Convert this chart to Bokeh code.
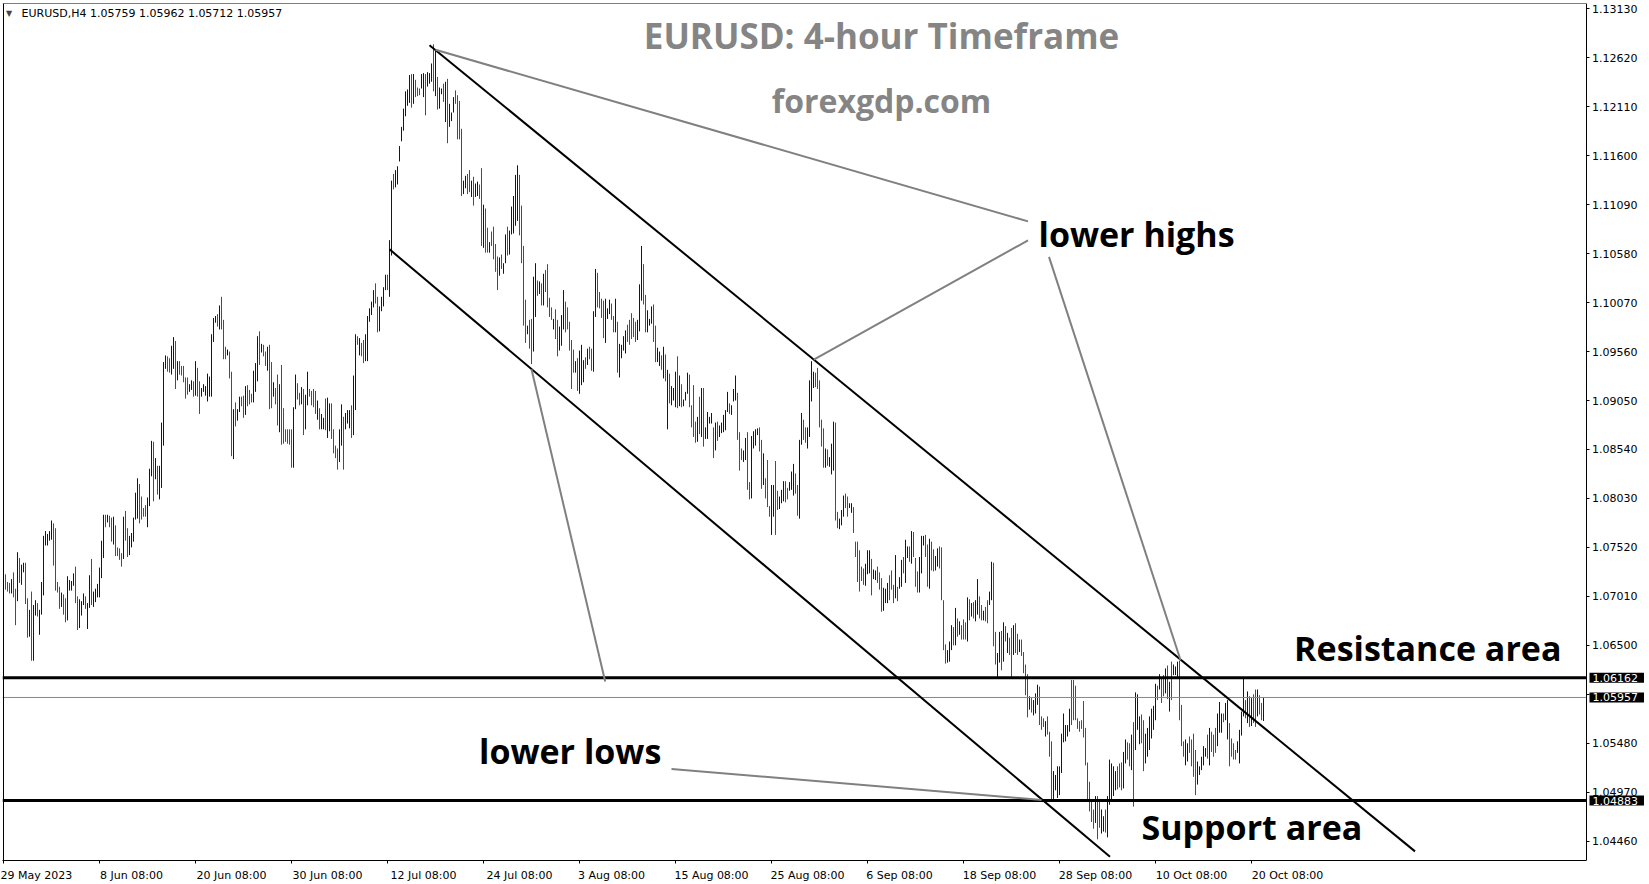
from bokeh.plotting import figure
from bokeh.models import (Range1d, FixedTicker, PrintfTickFormatter, Label, ColumnDataSource,
                          LinearAxis)
from bokeh.embed import file_html
from bokeh.resources import INLINE

# ---------------- data (EURUSD H4 bars) ----------------
highs = [
    1.0744, 1.0724, 1.0716, 1.0715, 1.0719, 1.0726, 1.0709, 1.0747, 1.0741, 1.0734,
    1.0736, 1.0736, 1.0699, 1.0687, 1.0706, 1.0692, 1.0697, 1.0694, 1.0687, 1.0716,
    1.0764, 1.0769, 1.0766, 1.0769, 1.0780, 1.0777, 1.0772, 1.0716, 1.0711, 1.0705,
    1.0703, 1.0699, 1.0722, 1.0718, 1.0717, 1.0725, 1.0732, 1.0701, 1.0698, 1.0696,
    1.0704, 1.0701, 1.0694, 1.0723, 1.0740, 1.0706, 1.0709, 1.0714, 1.0731, 1.0759,
    1.0786, 1.0786, 1.0786, 1.0785, 1.0783, 1.0784, 1.0775, 1.0752, 1.0751, 1.0746,
    1.0784, 1.0790, 1.0772, 1.0764, 1.0767, 1.0783, 1.0809, 1.0824, 1.0818, 1.0805,
    1.0793, 1.0796, 1.0804, 1.0834, 1.0863, 1.0862, 1.0845, 1.0837, 1.0837, 1.0882,
    1.0945, 1.0952, 1.0951, 1.0949, 1.0962, 1.0971, 1.0967, 1.0946, 1.0946, 1.0941,
    1.0941, 1.0929, 1.0929, 1.0922, 1.0926, 1.0925, 1.0946, 1.0939, 1.0925, 1.0918,
    1.0922, 1.0920, 1.0933, 1.0930, 1.0974, 1.0991, 1.0993, 1.0995, 1.1004, 1.1013,
    1.0989, 1.0961, 1.0958, 1.0956, 1.0935, 1.0896, 1.0903, 1.0896, 1.0909, 1.0909,
    1.0910, 1.0920, 1.0921, 1.0916, 1.0912, 1.0936, 1.0944, 1.0972, 1.0977, 1.0964,
    1.0963, 1.0956, 1.0961, 1.0963, 1.0945, 1.0924, 1.0918, 1.0932, 1.0922, 1.0942,
    1.0897, 1.0875, 1.0875, 1.0875, 1.0875, 1.0898, 1.0932, 1.0923, 1.0913, 1.0919,
    1.0917, 1.0911, 1.0935, 1.0917, 1.0915, 1.0917, 1.0915, 1.0905, 1.0897, 1.0891,
    1.0887, 1.0907, 1.0908, 1.0902, 1.0902, 1.0875, 1.0858, 1.0855, 1.0875, 1.0901,
    1.0888, 1.0892, 1.0895, 1.0895, 1.0900, 1.0931, 1.0974, 1.0972, 1.0970, 1.0965,
    1.0968, 1.0974, 1.0993, 1.1001, 1.1008, 1.1020, 1.1027, 1.1013, 1.1003, 1.1013,
    1.1023, 1.1036, 1.1036, 1.1072, 1.1134, 1.1141, 1.1145, 1.1149, 1.1170, 1.1190,
    1.1209, 1.1227, 1.1229, 1.1244, 1.1245, 1.1245, 1.1239, 1.1231, 1.1230, 1.1245,
    1.1246, 1.1245, 1.1247, 1.1246, 1.1256, 1.1276, 1.1269, 1.1242, 1.1231, 1.1230,
    1.1235, 1.1237, 1.1240, 1.1214, 1.1205, 1.1221, 1.1228, 1.1223, 1.1217, 1.1188,
    1.1134, 1.1139, 1.1141, 1.1145, 1.1134, 1.1138, 1.1131, 1.1133, 1.1130, 1.1147,
    1.1109, 1.1105, 1.1085, 1.1070, 1.1081, 1.1086, 1.1068, 1.1055, 1.1054, 1.1057,
    1.1048, 1.1078, 1.1086, 1.1082, 1.1107, 1.1118, 1.1140, 1.1150, 1.1140, 1.1108,
    1.1066, 1.1010, 1.0983, 1.0989, 1.0990, 1.1034, 1.1048, 1.1030, 1.1029, 1.1027,
    1.1037, 1.1041, 1.1047, 1.1012, 1.1002, 1.0990, 1.1000, 1.0989, 1.0982, 1.0994,
    1.1020, 1.1008, 1.1002, 1.0987, 1.0968, 1.0958, 1.0946, 1.0949, 1.0957, 1.0963,
    1.0947, 1.0950, 1.0959, 1.0961, 1.0959, 1.0998, 1.1042, 1.1038, 1.1018, 1.1011,
    1.1009, 1.1011, 1.1001, 1.1010, 1.1006, 1.0993, 1.1011, 1.0987, 1.0964, 1.0963,
    1.0972, 1.0978, 1.0984, 1.0989, 1.0996, 1.0991, 1.0987, 1.0989, 1.1026, 1.1066,
    1.1047, 1.1015, 1.0999, 1.0990, 1.1003, 1.1005, 1.0983, 1.0960, 1.0956, 1.0952,
    1.0961, 1.0953, 1.0937, 1.0933, 1.0920, 1.0918, 1.0935, 1.0951, 1.0931, 1.0922,
    1.0906, 1.0914, 1.0934, 1.0932, 1.0900, 1.0921, 1.0883, 1.0888, 1.0909, 1.0918,
    1.0918, 1.0877, 1.0893, 1.0888, 1.0892, 1.0877, 1.0882, 1.0883, 1.0879, 1.0882,
    1.0890, 1.0895, 1.0914, 1.0902, 1.0900, 1.0917, 1.0931, 1.0913, 1.0872, 1.0855,
    1.0853, 1.0866, 1.0872, 1.0820, 1.0868, 1.0873, 1.0875, 1.0876, 1.0877, 1.0864,
    1.0850, 1.0824, 1.0843, 1.0795, 1.0817, 1.0817, 1.0842, 1.0811, 1.0805, 1.0812,
    1.0821, 1.0821, 1.0814, 1.0820, 1.0831, 1.0839, 1.0829, 1.0817, 1.0864, 1.0892,
    1.0885, 1.0877, 1.0877, 1.0926, 1.0946, 1.0935, 1.0934, 1.0939, 1.0926, 1.0885,
    1.0876, 1.0855, 1.0854, 1.0846, 1.0860, 1.0883, 1.0882, 1.0789, 1.0782, 1.0791,
    1.0806, 1.0808, 1.0805, 1.0798, 1.0798, 1.0794, 1.0758, 1.0758, 1.0749, 1.0732,
    1.0730, 1.0735, 1.0749, 1.0749, 1.0740, 1.0729, 1.0728, 1.0732, 1.0726, 1.0720,
    1.0710, 1.0709, 1.0715, 1.0723, 1.0728, 1.0713, 1.0744, 1.0711, 1.0721, 1.0739,
    1.0742, 1.0760, 1.0753, 1.0753, 1.0769, 1.0768, 1.0741, 1.0727, 1.0742, 1.0764,
    1.0764, 1.0765, 1.0755, 1.0761, 1.0758, 1.0750, 1.0743, 1.0751, 1.0753, 1.0752,
    1.0697, 1.0651, 1.0645, 1.0654, 1.0671, 1.0669, 1.0689, 1.0678, 1.0675, 1.0671,
    1.0677, 1.0674, 1.0700, 1.0698, 1.0694, 1.0695, 1.0697, 1.0719, 1.0701, 1.0692,
    1.0686, 1.0690, 1.0697, 1.0706, 1.0737, 1.0736, 1.0664, 1.0642, 1.0664, 1.0665,
    1.0674, 1.0670, 1.0663, 1.0658, 1.0668, 1.0671, 1.0673, 1.0662, 1.0656, 1.0656,
    1.0643, 1.0630, 1.0620, 1.0597, 1.0595, 1.0593, 1.0600, 1.0609, 1.0607, 1.0576,
    1.0574, 1.0571, 1.0576, 1.0560, 1.0550, 1.0519, 1.0515, 1.0524, 1.0524, 1.0558,
    1.0579, 1.0567, 1.0567, 1.0584, 1.0614, 1.0614, 1.0608, 1.0574, 1.0571, 1.0572,
    1.0592, 1.0564, 1.0528, 1.0508, 1.0489, 1.0479, 1.0493, 1.0493, 1.0490, 1.0479,
    1.0472, 1.0479, 1.0493, 1.0531, 1.0527, 1.0524, 1.0519, 1.0524, 1.0527, 1.0528,
    1.0539, 1.0552, 1.0549, 1.0548, 1.0557, 1.0570, 1.0601, 1.0599, 1.0576, 1.0578,
    1.0572, 1.0558, 1.0564, 1.0576, 1.0584, 1.0587, 1.0610, 1.0608, 1.0620, 1.0616,
    1.0619, 1.0626, 1.0629, 1.0612, 1.0633, 1.0630, 1.0628, 1.0633, 1.0634, 1.0588,
    1.0550, 1.0552, 1.0548, 1.0555, 1.0552, 1.0558, 1.0541, 1.0529, 1.0524, 1.0534,
    1.0545, 1.0543, 1.0557, 1.0564, 1.0560, 1.0557, 1.0564, 1.0579, 1.0591, 1.0579,
    1.0579, 1.0590, 1.0593, 1.0569, 1.0553, 1.0548, 1.0541, 1.0550, 1.0562, 1.0581,
    1.0616, 1.0593, 1.0602, 1.0597, 1.0595, 1.0599, 1.0604, 1.0604, 1.0598, 1.0590,
    1.05962,
]

lows = [
    1.0714, 1.0708, 1.0706, 1.0704, 1.0704, 1.0700, 1.0671, 1.0696, 1.0715, 1.0713,
    1.0726, 1.0693, 1.0658, 1.0659, 1.0634, 1.0634, 1.0681, 1.0680, 1.0661, 1.0682,
    1.0702, 1.0754, 1.0754, 1.0759, 1.0760, 1.0733, 1.0707, 1.0705, 1.0688, 1.0690,
    1.0682, 1.0674, 1.0676, 1.0707, 1.0707, 1.0712, 1.0694, 1.0666, 1.0668, 1.0681,
    1.0692, 1.0688, 1.0667, 1.0689, 1.0692, 1.0690, 1.0695, 1.0700, 1.0700, 1.0720,
    1.0741, 1.0773, 1.0778, 1.0773, 1.0758, 1.0755, 1.0743, 1.0743, 1.0739, 1.0732,
    1.0740, 1.0759, 1.0742, 1.0744, 1.0752, 1.0758, 1.0781, 1.0782, 1.0777, 1.0781,
    1.0784, 1.0784, 1.0773, 1.0795, 1.0826, 1.0800, 1.0823, 1.0807, 1.0802, 1.0814,
    1.0858, 1.0938, 1.0935, 1.0934, 1.0932, 1.0938, 1.0917, 1.0926, 1.0932, 1.0931,
    1.0924, 1.0907, 1.0911, 1.0914, 1.0916, 1.0909, 1.0910, 1.0909, 1.0891, 1.0909,
    1.0914, 1.0910, 1.0904, 1.0909, 1.0909, 1.0966, 1.0986, 1.0982, 1.0979, 1.0979,
    1.0948, 1.0948, 1.0952, 1.0928, 1.0847, 1.0844, 1.0878, 1.0884, 1.0893, 1.0899,
    1.0887, 1.0890, 1.0899, 1.0901, 1.0903, 1.0903, 1.0914, 1.0925, 1.0942, 1.0955,
    1.0951, 1.0941, 1.0936, 1.0896, 1.0897, 1.0909, 1.0901, 1.0879, 1.0872, 1.0859,
    1.0860, 1.0862, 1.0860, 1.0859, 1.0835, 1.0835, 1.0896, 1.0906, 1.0900, 1.0901,
    1.0869, 1.0875, 1.0900, 1.0909, 1.0900, 1.0898, 1.0891, 1.0885, 1.0875, 1.0875,
    1.0875, 1.0874, 1.0866, 1.0873, 1.0865, 1.0850, 1.0845, 1.0833, 1.0841, 1.0858,
    1.0833, 1.0875, 1.0881, 1.0876, 1.0866, 1.0869, 1.0895, 1.0963, 1.0952, 1.0951,
    1.0944, 1.0946, 1.0946, 1.0987, 1.0994, 1.1002, 1.1006, 1.0976, 1.0977, 1.0998,
    1.1003, 1.1020, 1.1020, 1.1013, 1.1056, 1.1125, 1.1127, 1.1130, 1.1154, 1.1175,
    1.1186, 1.1201, 1.1212, 1.1215, 1.1210, 1.1214, 1.1221, 1.1222, 1.1223, 1.1230,
    1.1221, 1.1202, 1.1232, 1.1235, 1.1237, 1.1227, 1.1222, 1.1208, 1.1209, 1.1224,
    1.1216, 1.1195, 1.1173, 1.1190, 1.1196, 1.1205, 1.1214, 1.1177, 1.1177, 1.1118,
    1.1120, 1.1126, 1.1120, 1.1122, 1.1117, 1.1108, 1.1117, 1.1118, 1.1115, 1.1066,
    1.1064, 1.1059, 1.1059, 1.1059, 1.1066, 1.1052, 1.1039, 1.1020, 1.1035, 1.1042,
    1.1037, 1.1048, 1.1056, 1.1057, 1.1078, 1.1079, 1.1087, 1.1092, 1.1077, 1.1048,
    1.0983, 1.0965, 1.0974, 1.0959, 1.0943, 1.0956, 1.0992, 1.1014, 1.1016, 1.1004,
    1.1004, 1.1018, 1.1002, 1.0992, 1.0989, 1.0979, 1.0969, 1.0951, 1.0957, 1.0962,
    1.0979, 1.0976, 1.0979, 1.0957, 1.0917, 1.0934, 1.0934, 1.0915, 1.0912, 1.0921,
    1.0924, 1.0938, 1.0942, 1.0948, 1.0936, 1.0935, 1.0992, 1.1002, 1.1001, 1.0991,
    1.0970, 1.0965, 1.0990, 1.0995, 1.0989, 1.0976, 1.0976, 1.0934, 1.0929, 1.0949,
    1.0957, 1.0954, 1.0966, 1.0963, 1.0969, 1.0971, 1.0966, 1.0968, 1.0977, 1.1009,
    1.1005, 1.0976, 1.0976, 1.0983, 1.0985, 1.0966, 1.0945, 1.0945, 1.0941, 1.0937,
    1.0928, 1.0925, 1.0875, 1.0902, 1.0900, 1.0905, 1.0898, 1.0897, 1.0899, 1.0898,
    1.0899, 1.0905, 1.0912, 1.0898, 1.0877, 1.0867, 1.0861, 1.0862, 1.0870, 1.0867,
    1.0857, 1.0865, 1.0865, 1.0881, 1.0881, 1.0845, 1.0853, 1.0863, 1.0867, 1.0871,
    1.0872, 1.0874, 1.0893, 1.0891, 1.0890, 1.0904, 1.0905, 1.0864, 1.0832, 1.0843,
    1.0841, 1.0843, 1.0812, 1.0802, 1.0803, 1.0855, 1.0858, 1.0869, 1.0852, 1.0813,
    1.0817, 1.0803, 1.0794, 1.0784, 1.0765, 1.0784, 1.0765, 1.0791, 1.0792, 1.0798,
    1.0800, 1.0799, 1.0802, 1.0811, 1.0812, 1.0806, 1.0808, 1.0785, 1.0782, 1.0859,
    1.0864, 1.0861, 1.0855, 1.0867, 1.0904, 1.0918, 1.0919, 1.0917, 1.0877, 1.0857,
    1.0835, 1.0835, 1.0837, 1.0836, 1.0828, 1.0832, 1.0780, 1.0772, 1.0771, 1.0775,
    1.0784, 1.0793, 1.0784, 1.0793, 1.0788, 1.0767, 1.0742, 1.0716, 1.0706, 1.0717,
    1.0713, 1.0712, 1.0724, 1.0725, 1.0702, 1.0719, 1.0718, 1.0715, 1.0708, 1.0685,
    1.0686, 1.0694, 1.0694, 1.0697, 1.0708, 1.0694, 1.0699, 1.0696, 1.0709, 1.0711,
    1.0725, 1.0715, 1.0741, 1.0737, 1.0735, 1.0742, 1.0711, 1.0705, 1.0705, 1.0725,
    1.0754, 1.0742, 1.0711, 1.0709, 1.0728, 1.0727, 1.0728, 1.0732, 1.0730, 1.0697,
    1.0645, 1.0631, 1.0632, 1.0633, 1.0645, 1.0650, 1.0650, 1.0659, 1.0661, 1.0656,
    1.0656, 1.0656, 1.0654, 1.0676, 1.0680, 1.0678, 1.0675, 1.0682, 1.0678, 1.0676,
    1.0676, 1.0675, 1.0673, 1.0692, 1.0697, 1.0649, 1.0630, 1.0616, 1.0632, 1.0624,
    1.0633, 1.0654, 1.0642, 1.0640, 1.0616, 1.0640, 1.0642, 1.0640, 1.0643, 1.0639,
    1.0621, 1.0598, 1.0575, 1.0583, 1.0580, 1.0577, 1.0579, 1.0588, 1.0567, 1.0562,
    1.0565, 1.0555, 1.0557, 1.0534, 1.0489, 1.0490, 1.0499, 1.0491, 1.0494, 1.0517,
    1.0549, 1.0550, 1.0555, 1.0560, 1.0567, 1.0572, 1.0572, 1.0563, 1.0560, 1.0563,
    1.0554, 1.0525, 1.0489, 1.0477, 1.0466, 1.0459, 1.0465, 1.0448, 1.0460, 1.0454,
    1.0456, 1.0455, 1.0450, 1.0484, 1.0489, 1.0493, 1.0499, 1.0500, 1.0502, 1.0499,
    1.0501, 1.0527, 1.0531, 1.0524, 1.0520, 1.0482, 1.0541, 1.0562, 1.0547, 1.0548,
    1.0519, 1.0527, 1.0534, 1.0541, 1.0553, 1.0562, 1.0572, 1.0593, 1.0604, 1.0590,
    1.0597, 1.0600, 1.0594, 1.0581, 1.0593, 1.0619, 1.0619, 1.0617, 1.0572, 1.0545,
    1.0534, 1.0525, 1.0529, 1.0538, 1.0524, 1.0513, 1.0494, 1.0505, 1.0515, 1.0520,
    1.0525, 1.0534, 1.0532, 1.0525, 1.0539, 1.0534, 1.0538, 1.0545, 1.0559, 1.0559,
    1.0570, 1.0572, 1.0552, 1.0524, 1.0534, 1.0531, 1.0531, 1.0538, 1.0527, 1.0556,
    1.0576, 1.0574, 1.0569, 1.0565, 1.0566, 1.0569, 1.0565, 1.0576, 1.0578, 1.0572,
    1.05712,
]

# u = bullish bar (close > open), d = bearish bar, n = unchanged
directions = (
    "dddduddudu" "udduduuduu" "uuuuuddddu" "dduuuudduu" "uduuduuuuu"
    "ududdudddd" "udduuuuudd" "dduuududuu" "uudduududd" "ddduududdu"
    "uuuuuuudud" "ddndduduud" "duddduuudu" "ddudduddud" "ddddduuddu"
    "duuddddudu" "uduudddduu" "duuuduudud" "duuuuudduu" "uuduuduuuu"
    "uuuududddu" "uduuududuu" "duduuudddd" "uudduduudd" "udduddddud"
    "uuduuuuudd" "ddudduudud" "uddddudduu" "uddddduduu" "ududduuddd"
    "duuudduduu" "uuddddduuu" "dduuudduud" "ududuuudud" "uuuddddudu"
    "duuuududuu" "uuuduuuddd" "uudduuuudd" "uddduudduu" "udduuudduu"
    "dduuuudddd" "duduuudduu" "udduuddddd" "duuuduuddd" "uuuddduduu"
    "duududdduu" "uddudduudd" "dduuududud" "ddududuudd" "udduudduud"
    "ududduddud" "ddduduuudd" "duddduuuuu" "uuuudddddd" "dddddduddu"
    "uduuuuuddd" "uudduduuud" "duuuuuudud" "dududuuudd" "duudddduuu"
    "uududdduuu" "duudddduuu" "udududdudd" "u"
)

last_bar_ohlc = ["1.05759", "1.05962", "1.05712", "1.05957"]

# time axis labels (bar index of each label)
date_label_bars = [0, 48, 96, 144, 192, 240, 288, 336, 384, 432, 480, 528, 576, 624]
date_labels = ["29 May 2023", "8 Jun 08:00", "20 Jun 08:00", "30 Jun 08:00", "12 Jul 08:00",
               "24 Jul 08:00", "3 Aug 08:00", "15 Aug 08:00", "25 Aug 08:00", "6 Sep 08:00",
               "18 Sep 08:00", "28 Sep 08:00", "10 Oct 08:00", "20 Oct 08:00"]

price_ticks = [1.04460, 1.04970, 1.05480, 1.05990, 1.06500, 1.07010, 1.07520, 1.08030, 1.08540,
               1.09050, 1.09560, 1.10070, 1.10580, 1.11090, 1.11600, 1.12110, 1.12620, 1.13130]
hidden_price_labels = [1.05990]   # covered by the current-price tag

resistance_level = 1.06162
support_level = 1.04883
current_price = 1.05957

# drawn analysis lines: (bar index, price) endpoints
channel_upper_x = [213, 705.75]
channel_upper_y = [1.12751, 1.04354]
channel_lower_x = [193, 553.25]
channel_lower_y = [1.10625, 1.04297]
lower_highs_xs = [[216, 512.25], [405.15, 512.25], [522.75, 588.5]]
lower_highs_ys = [[1.12703, 1.10916], [1.09477, 1.10718], [1.10546, 1.06347]]
lower_lows_xs = [[264, 300.85], [334, 519]]
lower_lows_ys = [[1.09376, 1.06123], [1.05213, 1.04890]]

# ---------------- figure ----------------
W, H = 1649, 884
BORDER_L, BORDER_T, BORDER_B = 2, 3, 23
BAR_PX = 2.0                      # pixels per H4 bar (MT4 zoom level)
X0 = -0.5                         # x_range start (bar units)
X1 = X0 + (W - BORDER_L) / BAR_PX
Y0, Y1 = 1.04259, 1.13185
PRICE_AXIS_AT = 791.25            # bar position of the price scale line
px_per_price = (H - BORDER_T - BORDER_B) / (Y1 - Y0)

n = min(len(highs), len(lows), len(directions))
color_map = {"u": "#0000CD", "d": "#FF0000", "n": "#000000"}
src = ColumnDataSource(dict(
    x=list(range(n)),
    hi=highs[:n],
    lo=lows[:n],
    color=[color_map[c] for c in directions[:n]],
))

p = figure(width=W, height=H, x_range=Range1d(X0, X1), y_range=Range1d(Y0, Y1),
           output_backend="svg", toolbar_location=None, y_axis_location=None,
           min_border_left=BORDER_L, min_border_top=BORDER_T, min_border_right=0,
           min_border_bottom=BORDER_B)
p.background_fill_color = "white"
p.border_fill_color = "white"
p.outline_line_color = None
p.grid.visible = False

# time axis (bottom) -- line stops at the price scale
xa = p.xaxis[0]
label_ticks = [b + int(round(len(t) * 1.5)) for b, t in zip(date_label_bars, date_labels)]
xa.ticker = FixedTicker(ticks=label_ticks, minor_ticks=date_label_bars)
xa.major_label_overrides = {t: s for t, s in zip(label_ticks, date_labels)}
xa.bounds = (X0, PRICE_AXIS_AT)
xa.major_tick_line_color = None
xa.minor_tick_in = 0
xa.minor_tick_out = 3
xa.minor_tick_line_color = "black"
xa.major_label_standoff = 2
xa.major_label_text_font = "DejaVu Sans"
xa.major_label_text_font_size = "11px"
xa.major_label_text_color = "black"
xa.axis_line_color = "black"

# price scale drawn at a fixed location inside the plotting area
ya = LinearAxis(fixed_location=PRICE_AXIS_AT,
                ticker=FixedTicker(ticks=price_ticks, minor_ticks=[]),
                formatter=PrintfTickFormatter(format="%.5f"))
ya.major_label_overrides = {v: "" for v in hidden_price_labels}
ya.major_tick_in = 0
ya.major_tick_out = 3
ya.major_label_standoff = 3
ya.major_label_text_font = "DejaVu Sans"
ya.major_label_text_font_size = "11px"
ya.major_label_text_color = "black"
ya.axis_line_color = "black"
p.add_layout(ya, "right")

# chart frame: left and top edges
left_edge = LinearAxis(fixed_location=X0 + 0.5 / BAR_PX, ticker=FixedTicker(ticks=[], minor_ticks=[]),
                       major_label_text_font_size="0px", major_tick_line_color=None,
                       minor_tick_line_color=None, axis_line_color="black")
p.add_layout(left_edge, "left")
top_edge = LinearAxis(fixed_location=Y1 - 0.5 / px_per_price, bounds=(X0, PRICE_AXIS_AT),
                      ticker=FixedTicker(ticks=[], minor_ticks=[]),
                      major_label_text_font_size="0px", major_tick_line_color=None,
                      minor_tick_line_color=None, axis_line_color="black")
p.add_layout(top_edge, "above")

# bars
p.segment(x0="x", y0="lo", x1="x", y1="hi", line_color="color", line_width=1, source=src)

# horizontal levels (stop at the price scale)
p.segment(x0=[X0], x1=[PRICE_AXIS_AT], y0=[current_price], y1=[current_price],
          line_color="#7a8a99", line_width=1)
p.segment(x0=[X0, X0], x1=[PRICE_AXIS_AT, PRICE_AXIS_AT],
          y0=[resistance_level, support_level], y1=[resistance_level, support_level],
          line_color="black", line_width=3)

# channel and annotation lines
p.line(channel_upper_x, channel_upper_y, line_color="black", line_width=2)
p.line(channel_lower_x, channel_lower_y, line_color="black", line_width=2)
p.multi_line(lower_highs_xs, lower_highs_ys, line_color="#808080", line_width=2)
p.multi_line(lower_lows_xs, lower_lows_ys, line_color="#808080", line_width=2)


# price tags on the scale
def price_tag(lvl):
    kw = dict(x=PRICE_AXIS_AT + 1.75, y=lvl, text="%.5f" % lvl, text_color="white",
              text_font="DejaVu Sans", text_font_size="11px", text_baseline="middle",
              background_fill_color="black")
    try:
        return Label(padding=dict(left=3, right=6, top=1, bottom=1), **kw)
    except Exception:
        return Label(padding=1, **kw)


for lvl in [resistance_level, current_price, support_level]:
    p.add_layout(price_tag(lvl))

# header
p.add_layout(Label(x=2.8, y=1.13076, text="\u25bc", text_font="DejaVu Sans",
                   text_font_size="8px", text_baseline="middle", text_align="center"))
p.add_layout(Label(x=9, y=1.13076, text="EURUSD,H4  " + " ".join(last_bar_ohlc),
                   text_font="DejaVu Sans", text_font_size="11px", text_baseline="middle",
                   text_color="black"))

# titles
p.add_layout(Label(x=439, y=1.12851, text="EURUSD: 4-hour Timeframe", text_align="center",
                   text_baseline="middle", text_font="Open Sans", text_font_style="bold",
                   text_font_size="35px", text_color="#858585"))
p.add_layout(Label(x=439, y=1.12175, text="forexgdp.com", text_align="center",
                   text_baseline="middle", text_font="Open Sans", text_font_style="bold",
                   text_font_size="32px", text_color="#858585"))

# annotations
for tx, ty, tt in [(517.5, 1.10784, "lower highs"), (237.75, 1.05399, "lower lows"),
                   (645.3, 1.06471, "Resistance area"), (569, 1.04608, "Support area")]:
    p.add_layout(Label(x=tx, y=ty, text=tt, text_align="left", text_baseline="middle",
                       text_font="Open Sans", text_font_style="bold", text_font_size="34px",
                       text_color="black"))

open("out.html", "w").write(file_html(p, INLINE))
